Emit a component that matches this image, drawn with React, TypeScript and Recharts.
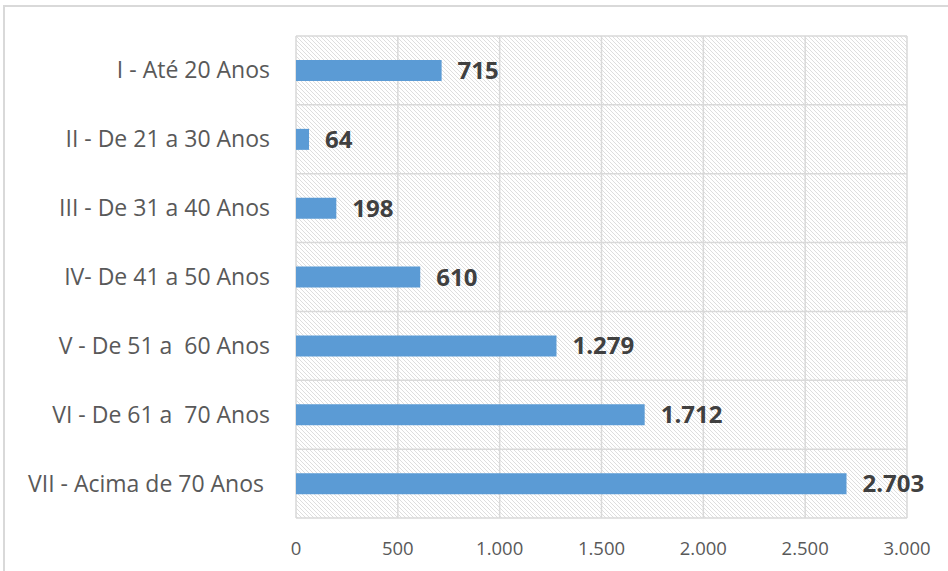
import { BarChart, Bar, XAxis, YAxis, CartesianGrid, LabelList } from "recharts";

const faixas = [
  "I - Até 20 Anos",
  "II - De 21 a 30 Anos",
  "III - De 31 a 40 Anos",
  "IV- De 41 a 50 Anos",
  "V - De 51 a  60 Anos",
  "VI - De 61 a  70 Anos",
  "VII - Acima de 70 Anos ",
];
const totais = [715, 64, 198, 610, 1279, 1712, 2703];
const xTicks = [0, 500, 1000, 1500, 2000, 2500, 3000];

const data = faixas.map((faixa, i) => ({ faixa, total: totais[i] }));

const W = 948;
const H = 571;
const FONT = "'Open Sans', sans-serif";

// pt-BR style thousands separator
const fmt = (v: number) => String(v).replace(/\B(?=(\d{3})+(?!\d))/g, ".");

// keeps the double spaces of the original labels
const CategoryTick = ({ x, y, payload }: any) => (
  <text
    x={x}
    y={y}
    dy="0.35em"
    textAnchor="end"
    xmlSpace="preserve"
    style={{ whiteSpace: "pre" }}
    fontSize={23}
    fill="#595959"
    fontFamily={FONT}
  >
    {payload.value}
  </text>
);

export default function App() {
  return (
    <div style={{ position: "absolute", left: 0, top: 0, width: W, height: H, background: "#fff", overflow: "hidden" }}>
      <BarChart
        width={W}
        height={H}
        data={data}
        layout="vertical"
        margin={{ top: 36, right: 41, bottom: 23, left: 0 }}
        style={{ fontFamily: FONT }}
      >
        <defs>
          <pattern id="hatch" patternUnits="userSpaceOnUse" width={4} height={4}>
            <rect width={4} height={4} fill="#fff" />
            <path d="M-1,-1 L5,5 M-1,3 L1,5 M3,-1 L5,1" stroke="#dadada" strokeWidth={0.9} />
          </pattern>
        </defs>
        <CartesianGrid
          stroke="#d9d9d9"
          strokeWidth={1.5}
          fill="url(#hatch)"
          fillOpacity={1}
          horizontalCoordinatesGenerator={({ offset }: any) =>
            faixas.map((_, i) => offset.top + (i * offset.height) / faixas.length).concat(offset.top + offset.height)
          }
        />
        <XAxis
          type="number"
          domain={[0, 3000]}
          ticks={xTicks}
          tickFormatter={fmt}
          axisLine={false}
          tickLine={false}
          tickMargin={18}
          tick={{ fontSize: 18.5, fill: "#595959", fontFamily: FONT }}
        />
        <YAxis
          type="category"
          dataKey="faixa"
          width={296}
          axisLine={false}
          tickLine={false}
          tickMargin={20}
          tick={<CategoryTick />}
        />
        <Bar dataKey="total" fill="#5b9bd5" barSize={21} isAnimationActive={false}>
          <LabelList
            dataKey="total"
            position="right"
            offset={16}
            formatter={(v: any) => fmt(Number(v))}
            style={{ fontSize: 24, fontWeight: 700, fill: "#404040", fontFamily: FONT }}
          />
        </Bar>
      </BarChart>
      {/* outer chart frame, cut off at right and bottom like the source */}
      <div
        style={{
          position: "absolute",
          left: 3,
          top: 5,
          width: W + 10,
          height: H + 10,
          border: "2px solid #d9d9d9",
          boxSizing: "border-box",
          pointerEvents: "none",
        }}
      />
    </div>
  );
}
